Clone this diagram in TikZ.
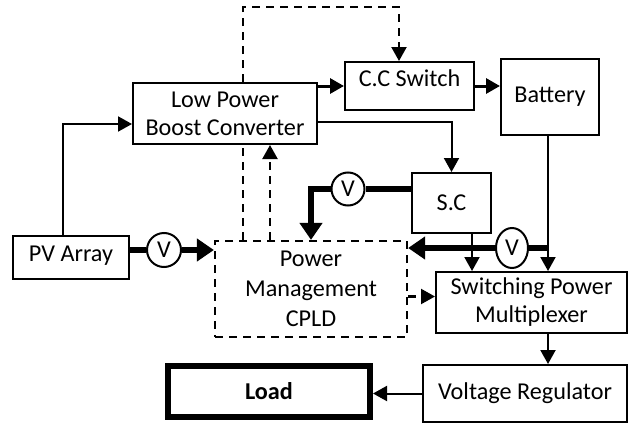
\documentclass[tikz,border=0pt]{standalone}
\usepackage{fontspec}
\setmainfont{Carlito}
\usetikzlibrary{arrows.meta,positioning,shapes.geometric,calc}

\begin{document}
\begin{tikzpicture}[x=1pt,y=-1pt,font=\fontsize{24.2}{28}\selectfont,
  box/.style={draw,line width=2pt,align=center,inner sep=0pt},
  vm/.style={draw,ellipse,line width=2pt,inner sep=0pt,minimum width=34pt,minimum height=34pt},
  sig/.style={line width=2pt,-{Triangle[length=14pt,width=15pt]}},
  pwr/.style={line width=6pt,-{Triangle[length=17pt,width=22pt]}},
  ctrl/.style={line width=2.2pt,dash pattern=on 8pt off 6pt}]
  \useasboundingbox (0,0) rectangle (629,423);
  \node[box,minimum width=116pt,minimum height=43pt,text depth=8pt] (pv) at (71,257.5) {PV Array};
  \node[box,minimum width=184pt,minimum height=61pt] (lpbc) at (225,113.5) {Low Power\\Boost Converter};
  \node[box,minimum width=129pt,minimum height=48pt,text depth=16pt] (ccs) at (409.5,86) {C.C Switch};
  \node[box,minimum width=98pt,minimum height=76pt] (bat) at (550,97) {Battery};
  \node[box,minimum width=79pt,minimum height=60pt] (sc) at (451.5,203) {S.C};
  \node[box,ctrl,minimum width=192pt,minimum height=96pt,font=\fontsize{24.2}{30}\selectfont] (cpld) at (311,289) {Power\\Management\\CPLD};
  \node[box,minimum width=191pt,minimum height=61pt] (spm) at (531.5,302.5) {Switching Power\\Multiplexer};
  \node[box,minimum width=204pt,minimum height=57pt] (vr) at (525,393.5) {Voltage Regulator};
  \node[box,line width=6pt,minimum width=202pt,minimum height=51pt,font=\fontsize{24.2}{28}\selectfont\bfseries] (load) at (269,391.5) {Load};
  \node[vm] (v1) at (164,250) {V};
  \node[vm,minimum width=33pt,minimum height=33pt] (v2) at (348,189) {V};
  \node[vm,minimum width=32pt,minimum height=40pt] (v3) at (512,248) {V};
  \coordinate (ctl) at (243,7);
  \coordinate (fb) at ([xshift=45pt]lpbc.south);
  \coordinate (mux) at ([yshift=6pt]spm.west);
  % control lines
  \draw[ctrl] (cpld.north -| ctl) -- (lpbc.south -| ctl);
  \draw[ctrl,-{Triangle[length=14pt,width=15pt]}] (lpbc.north -| ctl) -- (ctl) -| ([xshift=-10.5pt]ccs.north);
  \draw[ctrl,-{Triangle[length=14pt,width=15pt]}] (cpld.north -| fb) -- (fb);
  \draw[ctrl,-{Triangle[length=14pt,width=15pt]}] (mux -| cpld.east) -- (mux);
  % power paths
  \draw[sig] ([xshift=-8pt]pv.north) |- ([yshift=-10.5pt]lpbc.west);
  \draw[sig,line width=3pt] (lpbc.east |- ccs.west) -- (ccs.west);
  \draw[sig,line width=3pt] (ccs.east) -- (ccs.east -| bat.west);
  \draw[sig] ([yshift=-8.5pt]lpbc.east) -| (sc.north);
  \draw[sig] ([xshift=-2pt]bat.south) -- ([xshift=-2pt]bat.south |- spm.north);
  \draw[sig] ([xshift=20.5pt]sc.south) -- ([xshift=20.5pt]sc.south |- spm.north);
  \draw[sig] ([xshift=-2pt]bat.south |- spm.south) -- ([xshift=-2pt]bat.south |- vr.north);
  \draw[sig] (vr.west) -- (vr.west -| load.east);
  % voltage sensing
  \draw[line width=6pt] (pv.east |- v1) -- (v1.west);
  \draw[pwr] (v1.east) -- (v1.east -| cpld.west);
  \draw[line width=6pt] (sc.west |- v2) -- (v2.east);
  \draw[pwr] (v2.west) -| (cpld.north);
  \draw[line width=6pt] ([xshift=-1pt]bat.south |- v3) -- (v3.east);
  \draw[pwr] (v3.west) -- (v3.west -| cpld.east);
\end{tikzpicture}
\end{document}
